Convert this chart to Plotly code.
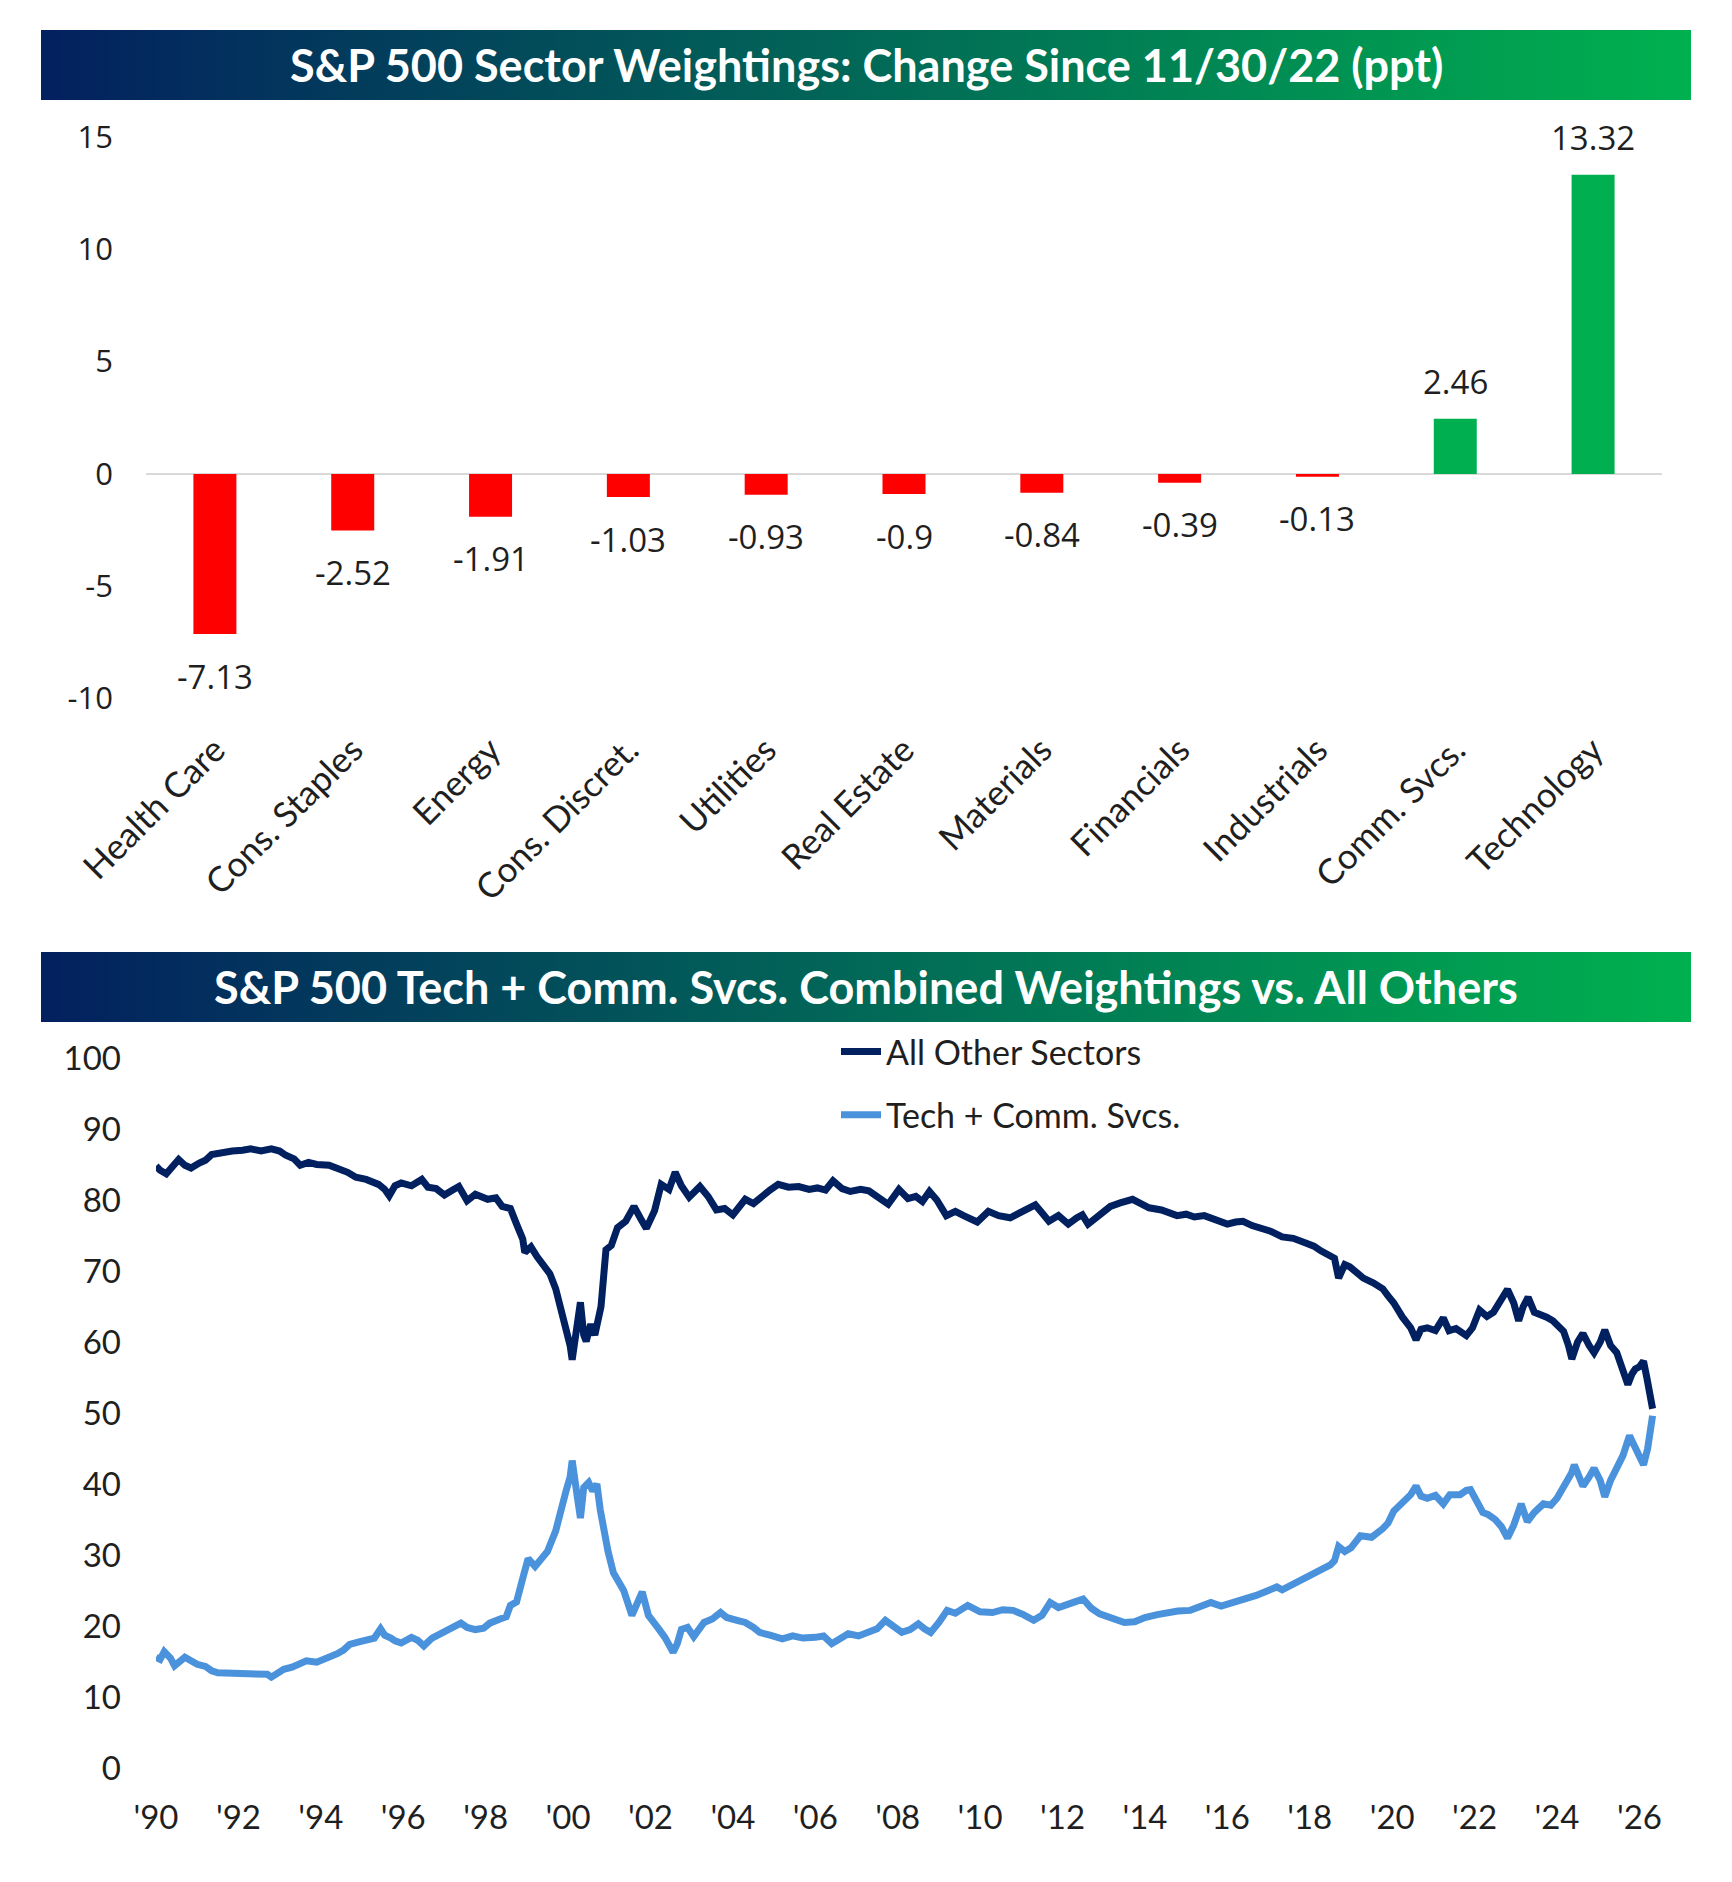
import base64
import plotly.graph_objects as go

# ---------------- data ----------------
sectors = ["Health Care", "Cons. Staples", "Energy", "Cons. Discret.", "Utilities",
           "Real Estate", "Materials", "Financials", "Industrials", "Comm. Svcs.", "Technology"]
changes = [-7.13, -2.52, -1.91, -1.03, -0.93, -0.90, -0.84, -0.39, -0.13, 2.46, 13.32]
bar_ticks = [-10, -5, 0, 5, 10, 15]
bar_tick_text = ["-10", "-5", "0", "5", "10", "15"]

other_years = [
    1990.0, 1990.1, 1990.25, 1990.4, 1990.55, 1990.7, 1990.85, 1991.05, 1991.2, 1991.35,
    1991.6, 1991.85, 1992.1, 1992.3, 1992.55, 1992.8, 1993.0, 1993.15, 1993.35, 1993.5,
    1993.7, 1993.9, 1994.2, 1994.45, 1994.65, 1994.85, 1995.1, 1995.4, 1995.55, 1995.66,
    1995.8, 1995.95, 1996.2, 1996.45, 1996.6, 1996.8, 1997.0, 1997.2, 1997.35, 1997.55,
    1997.75, 1998.05, 1998.25, 1998.4, 1998.6, 1998.75, 1998.9, 1998.95, 1999.1, 1999.25,
    1999.45, 1999.56, 1999.7, 1999.83, 1999.95, 2000.05, 2000.1, 2000.2, 2000.3, 2000.38,
    2000.44, 2000.55, 2000.65, 2000.8, 2000.92, 2001.05, 2001.2, 2001.4, 2001.6, 2001.75,
    2001.9, 2002.1, 2002.26, 2002.45, 2002.6, 2002.75, 2002.94, 2003.2, 2003.4, 2003.6,
    2003.8, 2004.0, 2004.15, 2004.3, 2004.5, 2004.7, 2004.9, 2005.1, 2005.35, 2005.6,
    2005.85, 2006.05, 2006.25, 2006.43, 2006.65, 2006.85, 2007.1, 2007.3, 2007.5, 2007.77,
    2008.03, 2008.25, 2008.44, 2008.6, 2008.77, 2008.95, 2009.18, 2009.4, 2009.6, 2009.93,
    2010.2, 2010.45, 2010.73, 2011.0, 2011.34, 2011.5, 2011.67, 2011.9, 2012.14, 2012.35,
    2012.48, 2012.62, 2012.85, 2013.0, 2013.16, 2013.4, 2013.7, 2013.9, 2014.1, 2014.4,
    2014.6, 2014.78, 2015.0, 2015.2, 2015.44, 2015.7, 2016.0, 2016.2, 2016.38, 2016.6,
    2016.8, 2017.05, 2017.33, 2017.6, 2017.87, 2018.1, 2018.28, 2018.5, 2018.6, 2018.7,
    2018.85, 2018.97, 2019.15, 2019.3, 2019.55, 2019.77, 2019.9, 2020.04, 2020.25, 2020.45,
    2020.58, 2020.7, 2020.85, 2021.05, 2021.24, 2021.38, 2021.55, 2021.8, 2021.95, 2022.12,
    2022.3, 2022.46, 2022.65, 2022.8, 2022.95, 2023.07, 2023.18, 2023.3, 2023.45, 2023.55,
    2023.75, 2023.9, 2024.05, 2024.16, 2024.28, 2024.36, 2024.5, 2024.63, 2024.78, 2024.9,
    2025.05, 2025.16, 2025.3, 2025.45, 2025.6, 2025.72, 2025.82, 2025.9, 2026.0, 2026.1,
    2026.18, 2026.25, 2026.32]
other_vals = [
    84.8, 84.2, 83.7, 84.6, 85.7, 84.9, 84.5, 85.2, 85.6, 86.4,
    86.7, 86.9, 87.0, 87.2, 86.9, 87.2, 86.9, 86.3, 85.8, 84.9,
    85.3, 85.0, 84.9, 84.4, 83.9, 83.2, 82.9, 82.2, 81.5, 80.6,
    82.0, 82.4, 82.0, 82.9, 81.8, 81.6, 80.7, 81.4, 81.9, 79.9,
    80.8, 80.1, 80.3, 79.1, 78.8, 76.6, 74.5, 72.6, 73.4, 72.0,
    70.4, 69.6, 67.5, 64.6, 61.5, 59.5, 57.5, 61.0, 65.6, 61.0,
    60.1, 62.5, 61.0, 65.0, 73.0, 73.6, 76.1, 77.0, 79.1, 77.5,
    76.0, 78.5, 82.2, 81.5, 83.9, 82.0, 80.4, 81.9, 80.5, 78.6,
    78.8, 77.9, 79.0, 80.1, 79.5, 80.6, 81.4, 82.2, 81.8, 81.9,
    81.5, 81.7, 81.4, 82.7, 81.6, 81.2, 81.5, 81.3, 80.6, 79.4,
    81.5, 80.2, 80.5, 79.8, 81.2, 80.0, 77.8, 78.4, 77.8, 76.9,
    78.4, 77.8, 77.5, 78.2, 79.3, 78.2, 77.0, 77.8, 76.6, 77.5,
    77.9, 76.6, 77.8, 78.5, 79.1, 79.6, 80.1, 79.5, 78.9, 78.6,
    78.1, 77.8, 78.0, 77.6, 77.8, 77.2, 76.6, 76.9, 77.0, 76.4,
    76.1, 75.6, 74.8, 74.6, 74.0, 73.5, 72.8, 72.2, 71.8, 69.0,
    70.9, 70.6, 69.8, 69.0, 68.3, 67.5, 66.5, 65.5, 63.5, 62.0,
    60.3, 61.8, 62.0, 61.6, 63.4, 61.6, 61.9, 60.9, 62.0, 64.5,
    63.6, 64.2, 66.0, 67.4, 65.5, 63.0, 65.0, 66.3, 64.2, 64.0,
    63.5, 63.0, 62.3, 61.5, 59.5, 57.6, 60.0, 61.2, 59.5, 58.5,
    60.0, 61.7, 59.5, 58.5, 56.0, 54.0, 55.5, 56.2, 56.5, 57.3,
    55.0, 52.5, 50.6]

tech_years = [
    1990.0, 1990.1, 1990.2, 1990.35, 1990.45, 1990.6, 1990.7, 1990.85, 1991.0, 1991.2,
    1991.35, 1991.5, 1991.8, 1992.1, 1992.3, 1992.5, 1992.7, 1992.8, 1992.95, 1993.1,
    1993.3, 1993.5, 1993.65, 1993.9, 1994.05, 1994.2, 1994.4, 1994.55, 1994.7, 1994.95,
    1995.15, 1995.3, 1995.45, 1995.55, 1995.7, 1995.8, 1995.95, 1996.2, 1996.35, 1996.5,
    1996.7, 1996.9, 1997.1, 1997.25, 1997.4, 1997.55, 1997.75, 1997.95, 1998.1, 1998.35,
    1998.5, 1998.6, 1998.75, 1998.9, 1999.03, 1999.2, 1999.35, 1999.5, 1999.7, 1999.83,
    1999.95, 2000.05, 2000.1, 2000.18, 2000.3, 2000.38, 2000.5, 2000.6, 2000.7, 2000.78,
    2000.9, 2000.97, 2001.1, 2001.2, 2001.35, 2001.55, 2001.65, 2001.8, 2001.95, 2002.1,
    2002.2, 2002.35, 2002.55, 2002.65, 2002.75, 2002.9, 2003.05, 2003.3, 2003.5, 2003.7,
    2003.85, 2004.1, 2004.3, 2004.5, 2004.65, 2004.9, 2005.2, 2005.45, 2005.7, 2006.0,
    2006.2, 2006.4, 2006.6, 2006.8, 2007.05, 2007.3, 2007.5, 2007.7, 2007.9, 2008.1,
    2008.3, 2008.5, 2008.65, 2008.8, 2009.0, 2009.2, 2009.4, 2009.7, 2010.0, 2010.3,
    2010.55, 2010.8, 2011.05, 2011.3, 2011.5, 2011.7, 2011.9, 2012.1, 2012.3, 2012.5,
    2012.7, 2012.9, 2013.2, 2013.5, 2013.75, 2014.0, 2014.3, 2014.55, 2014.8, 2015.1,
    2015.35, 2015.6, 2015.85, 2016.15, 2016.4, 2016.7, 2016.95, 2017.2, 2017.33, 2017.55,
    2017.75, 2017.87, 2018.1, 2018.3, 2018.5, 2018.6, 2018.7, 2018.85, 2019.0, 2019.23,
    2019.5, 2019.77, 2019.9, 2020.04, 2020.25, 2020.45, 2020.58, 2020.7, 2020.85, 2021.05,
    2021.24, 2021.4, 2021.65, 2021.8, 2021.9, 2022.05, 2022.2, 2022.33, 2022.5, 2022.65,
    2022.8, 2022.95, 2023.13, 2023.28, 2023.45, 2023.67, 2023.85, 2024.0, 2024.22, 2024.35,
    2024.42, 2024.55, 2024.63, 2024.78, 2024.9, 2025.05, 2025.16, 2025.3, 2025.45, 2025.6,
    2025.76, 2025.9, 2026.0, 2026.1, 2026.2, 2026.25, 2026.32]
tech_vals = [
    15.6, 15.3, 16.4, 15.5, 14.4, 15.0, 15.6, 15.1, 14.6, 14.3,
    13.7, 13.4, 13.3, 13.2, 13.2, 13.3, 13.2, 12.8, 13.4, 13.9,
    14.2, 14.6, 15.1, 14.9, 15.2, 15.6, 16.1, 16.6, 17.4, 17.8,
    18.0, 18.3, 19.6, 18.7, 18.3, 17.9, 17.6, 18.4, 18.0, 17.2,
    18.3, 18.9, 19.3, 20.0, 20.4, 19.8, 19.5, 19.7, 20.4, 21.0,
    21.3, 22.9, 23.4, 26.7, 29.5, 28.4, 29.5, 30.5, 33.4, 36.8,
    39.0, 41.0, 43.3, 40.0, 35.2, 39.5, 40.2, 39.0, 40.0, 36.4,
    32.0, 30.5, 27.5, 26.6, 25.0, 21.5, 23.0, 24.8, 21.5, 20.5,
    19.6, 18.4, 16.3, 17.5, 19.5, 19.8, 18.5, 20.5, 21.0, 21.9,
    21.2, 20.8, 20.5, 19.8, 19.1, 18.7, 18.2, 18.6, 18.3, 18.4,
    18.6, 17.5, 18.3, 18.9, 18.6, 19.1, 19.6, 20.8, 20.0, 19.1,
    19.5, 20.3, 19.6, 19.1, 20.5, 22.2, 21.8, 22.9, 22.0, 21.9,
    22.3, 22.2, 21.6, 20.8, 21.5, 23.3, 22.6, 22.9, 23.4, 23.8,
    22.5, 21.7, 21.0, 20.5, 20.6, 21.2, 21.6, 21.9, 22.1, 22.2,
    22.8, 23.3, 22.8, 23.3, 23.6, 24.3, 24.9, 25.5, 25.1, 25.8,
    26.4, 26.7, 27.3, 28.0, 28.6, 29.2, 31.2, 30.5, 31.0, 32.7,
    32.5, 33.7, 34.5, 36.2, 37.5, 38.5, 39.7, 38.3, 38.0, 38.4,
    37.2, 38.5, 38.5, 39.1, 39.2, 37.5, 36.0, 35.7, 35.0, 34.0,
    32.4, 34.2, 37.2, 34.7, 36.0, 37.2, 37.0, 38.0, 40.2, 41.5,
    42.7, 40.8, 39.7, 41.0, 42.2, 40.5, 38.2, 40.5, 42.2, 44.0,
    46.8, 45.0, 43.5, 42.7, 45.0, 47.5, 49.6]

year_ticks = list(range(1990, 2027, 2))
year_tick_text = ["'" + str(y)[2:] for y in year_ticks]
line_ticks = list(range(0, 101, 10))

# ---------------- layout helpers ----------------
W, H = 1732, 1882
def px_x(v):
    return v / W
def px_y(v):
    return (H - v) / H

NAVY = "#002060"
LIGHT = "#4A92DB"
RED = "#FF0000"
GREEN = "#00B050"
TXT = "#1F1F1F"

svg = ('<svg xmlns="http://www.w3.org/2000/svg" width="1650" height="70" preserveAspectRatio="none">'
       '<defs><linearGradient id="g" x1="0" y1="0" x2="1" y2="0">'
       '<stop offset="0" stop-color="#03205F"/><stop offset="1" stop-color="#00B14F"/>'
       '</linearGradient></defs><rect width="1650" height="70" fill="url(#g)"/></svg>')
grad_uri = "data:image/svg+xml;base64," + base64.b64encode(svg.encode()).decode()

fig = go.Figure()

bar_colors = [RED if v < 0 else GREEN for v in changes]
fig.add_trace(go.Bar(x=sectors, y=changes, marker=dict(color=bar_colors, line=dict(width=0)),
                     xaxis="x", yaxis="y", showlegend=False, hoverinfo="skip"))

fig.add_trace(go.Scatter(x=other_years, y=other_vals, mode="lines", name="All Other Sectors",
                         line=dict(color=NAVY, width=7), xaxis="x2", yaxis="y2",
                         legendgroup="a"))
fig.add_trace(go.Scatter(x=tech_years, y=tech_vals, mode="lines", name="Tech + Comm. Svcs.",
                         line=dict(color=LIGHT, width=7), xaxis="x2", yaxis="y2",
                         legendgroup="b"))

annotations = []
for s, v in zip(sectors, changes):
    annotations.append(dict(x=s, y=v, xref="x", yref="y", text=f"{v:g}", showarrow=False,
                            yshift=(37 if v >= 0 else -42), yanchor="middle",
                            font=dict(family="Open Sans", size=33, color=TXT)))

annotations.append(dict(x=px_x(866), y=px_y(65), xref="paper", yref="paper",
                        text="S&P 500 Sector Weightings: Change Since 11/30/22 (ppt)",
                        showarrow=False, xanchor="center", yanchor="middle",
                        font=dict(family="Lato", size=45, color="white", weight="bold")))
annotations.append(dict(x=px_x(866), y=px_y(987), xref="paper", yref="paper",
                        text="S&P 500 Tech + Comm. Svcs. Combined Weightings vs. All Others",
                        showarrow=False, xanchor="center", yanchor="middle",
                        font=dict(family="Lato", size=45, color="white", weight="bold")))

images = [
    dict(source=grad_uri, xref="paper", yref="paper", x=px_x(41), y=px_y(30),
         sizex=1650 / W, sizey=70 / H, sizing="stretch", xanchor="left", yanchor="top",
         layer="below"),
    dict(source=grad_uri, xref="paper", yref="paper", x=px_x(41), y=px_y(952),
         sizex=1650 / W, sizey=70 / H, sizing="stretch", xanchor="left", yanchor="top",
         layer="below"),
]

fig.update_layout(
    width=W, height=H, margin=dict(l=0, r=0, t=0, b=0, pad=0, autoexpand=False),
    paper_bgcolor="white", plot_bgcolor="rgba(0,0,0,0)",
    bargap=0.688,
    annotations=annotations, images=images,
    xaxis=dict(domain=[px_x(146), px_x(1662)], anchor="y", type="category", automargin=False,
               tickangle=-45, showgrid=False, showline=False, zeroline=False, ticks="",
               tickfont=dict(family="Lato", size=35, color=TXT), ticklabelstandoff=23),
    yaxis=dict(domain=[px_y(698.5), px_y(137)], anchor="x", range=[-10, 15], automargin=False,
               tickvals=bar_ticks, ticktext=bar_tick_text, showgrid=False, showline=False,
               zeroline=True, zerolinecolor="#D9D9D9", zerolinewidth=2, ticks="",
               tickfont=dict(family="Open Sans", size=31, color=TXT), ticklabelstandoff=32),
    xaxis2=dict(domain=[px_x(156), px_x(1660)], anchor="y2", range=[1990, 2026.5],
                automargin=False,
                tickvals=year_ticks, ticktext=year_tick_text, showgrid=False, showline=False,
                zeroline=False, ticks="", tickfont=dict(family="Lato", size=33, color=TXT),
                ticklabelstandoff=27),
    yaxis2=dict(domain=[px_y(1768), px_y(1058)], anchor="x2", range=[0, 100], automargin=False,
                tickvals=line_ticks, showgrid=False, showline=False, zeroline=False, ticks="",
                tickfont=dict(family="Lato", size=33, color=TXT), ticklabelstandoff=34),
    legend=dict(x=px_x(836), y=px_y(1023), xanchor="left", yanchor="top",
                orientation="v", tracegroupgap=16, bgcolor="rgba(0,0,0,0)",
                font=dict(family="Lato", size=34, color=TXT), itemwidth=40),
    showlegend=True,
)

fig.write_html("out.html")
